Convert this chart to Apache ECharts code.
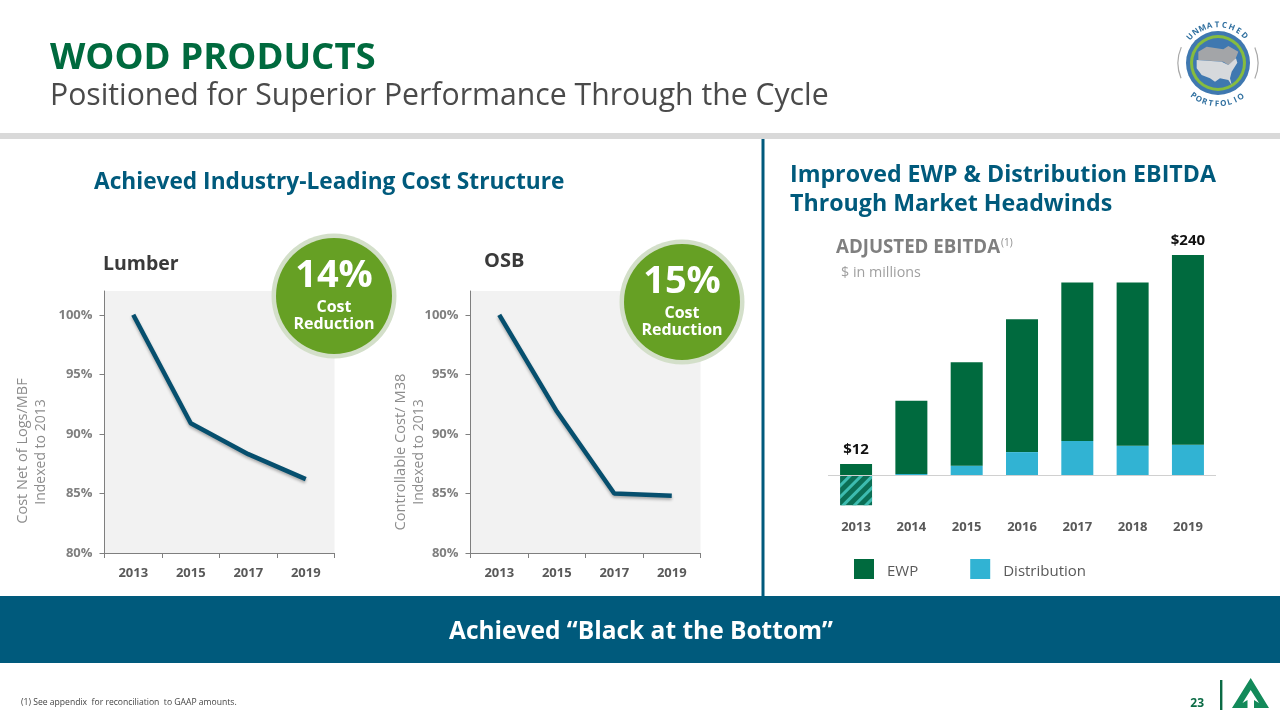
<!DOCTYPE html>
<html lang="en">
<head>
    <meta charset="UTF-8">
    <title>Wood Products</title>
    <script src="https://cdn.jsdelivr.net/npm/echarts@6/dist/echarts.min.js"></script>
    <style>
        html, body { margin: 0; padding: 0; background: #fff; }
        #chart { width: 1280px; height: 720px; }
    </style>
</head>
<body>
    <div id="chart"></div>
    <script>
        // chart data
        var lineYears = ['2013', '2015', '2017', '2019'];
        var lumberCost = [100, 90.9, 88.3, 86.2];
        var osbCost = [100, 91.9, 85, 84.8];
        var percentTicks = [80, 85, 90, 95, 100];

        var barYears = ['2013', '2014', '2015', '2016', '2017', '2018', '2019'];
        var ewp = [12, 80, 113, 145, 173, 178, 207];
        var distribution = [-33, 1, 10, 25, 37, 32, 33];
        var barLabels = ['$12', '', '', '', '', '', '$240'];

        var FONT = '"Open Sans", sans-serif';
        var GREEN = '#006a3e';
        var BLUE = '#005a7c';
        var SKY = '#31b3d3';

        var chart = echarts.init(document.getElementById('chart'));

        // text helper for the slide furniture
        function txt(x, y, text, size, weight, fill, align, rotation) {
            return {
                type: 'text', x: x, y: rotation ? y : y + size * 0.055 + 1.5, rotation: rotation || 0, z: 110,
                style: {
                    x: 0, y: 0, text: text, fill: fill,
                    font: weight + ' ' + size + 'px ' + FONT,
                    align: align || 'left', verticalAlign: 'middle'
                }
            };
        }

        function rect(x, y, w, h, fill) {
            return { type: 'rect', z: 100, shape: { x: x, y: y, width: w, height: h }, style: { fill: fill } };
        }

        function circle(cx, cy, r, fill, z) {
            return { type: 'circle', z: z || 100, shape: { cx: cx, cy: cy, r: r }, style: { fill: fill } };
        }

        function poly(points, fill, z) {
            return { type: 'polygon', z: z || 100, shape: { points: points }, style: { fill: fill } };
        }

        function badge(cx, cy, pct) {
            return [
                circle(cx, cy, 62.5, '#d3dfc9', 100),
                circle(cx, cy, 58, '#66a024', 101),
                txt(cx, cy - 23, pct, 38, 'bold', '#fff', 'center'),
                txt(cx, cy + 9.5, 'Cost', 16, 'bold', '#fff', 'center'),
                txt(cx, cy + 26.5, 'Reduction', 16, 'bold', '#fff', 'center')
            ];
        }

        // logo letters set along a circle
        function arcWord(word, cx, cy, r, from, to, bottom) {
            var out = [];
            for (var i = 0; i < word.length; i++) {
                var a = (from + (to - from) * i / (word.length - 1)) * Math.PI / 180;
                var t = bottom ? Math.PI - a : a;
                out.push({
                    type: 'text', z: 110,
                    x: cx + r * Math.sin(t), y: cy - r * Math.cos(t),
                    rotation: bottom ? a : -a,
                    style: {
                        x: 0, y: 0, text: word[i], fill: '#2f6f9f',
                        font: 'bold 8px ' + FONT, align: 'center', verticalAlign: 'middle'
                    }
                });
            }
            return out;
        }

        function logoPts(list) {
            return list.map(function (p) { return [1160 + p[0] / 3, 10 + p[1] / 3]; });
        }

        var logo = [
            { type: 'arc', z: 100, shape: { cx: 1218, cy: 63, r: 40, startAngle: 2.75, endAngle: 3.55 },
              style: { stroke: '#a8a8a8', lineWidth: 1.2, fill: null } },
            { type: 'arc', z: 100, shape: { cx: 1218, cy: 63, r: 40, startAngle: -0.4, endAngle: 0.4 },
              style: { stroke: '#a8a8a8', lineWidth: 1.2, fill: null } },
            circle(1218, 63, 32, '#3f78b0', 100),
            circle(1218, 63, 28, '#86bc3f', 101),
            circle(1218, 63, 25, '#3f78b0', 102),
            poly(logoPts([[115, 125], [140, 110], [190, 118], [205, 108], [235, 125], [225, 150], [205, 165], [190, 155], [115, 150]]), '#a3a5a8', 103),
            poly(logoPts([[110, 150], [185, 155], [205, 165], [228, 145], [232, 158], [215, 185], [210, 205], [215, 225], [205, 210], [180, 205], [165, 215], [150, 205], [125, 195], [110, 175]]), '#d6d9dc', 104)
        ].concat(arcWord('UNMATCHED', 1218, 63, 38, -47, 44, false), arcWord('PORTFOLIO', 1218, 63, 41, -37, 34, true));

        var slide = [
            // header
            txt(50, 55.5, 'WOOD PRODUCTS', 36.6, 'bold', GREEN),
            txt(50, 93, 'Positioned for Superior Performance Through the Cycle', 30.2, 'normal', '#4a4a4a'),
            rect(0, 133, 1280, 6, '#d9d9d9'),
            rect(761.5, 139, 3, 457, BLUE),
            // left panel
            txt(94, 180, 'Achieved Industry-Leading Cost Structure', 22.7, 'bold', BLUE),
            txt(103, 262, 'Lumber', 19.5, 'bold', '#3a3a3a'),
            txt(484, 259, 'OSB', 20, 'bold', '#3a3a3a'),
            txt(23, 451, 'Cost Net of Logs/MBF', 14.5, 'normal', '#8c8c8c', 'center', Math.PI / 2),
            txt(41, 452, 'Indexed to 2013', 14, 'normal', '#8c8c8c', 'center', Math.PI / 2),
            txt(401, 452, 'Controllable Cost/ M38', 14.7, 'normal', '#8c8c8c', 'center', Math.PI / 2),
            txt(419, 452, 'Indexed to 2013', 14, 'normal', '#8c8c8c', 'center', Math.PI / 2),
            // right panel
            txt(790, 173, 'Improved EWP & Distribution EBITDA', 23.2, 'bold', BLUE),
            txt(790, 202, 'Through Market Headwinds', 23.2, 'bold', BLUE),
            txt(836, 245.5, 'ADJUSTED EBITDA', 18.7, 'bold', '#7f7f7f'),
            txt(1001, 241, '(1)', 10, 'normal', '#8c8c8c'),
            txt(841, 271, '$ in millions', 14.3, 'normal', '#a0a0a0'),
            // bottom band
            rect(0, 596, 1280, 67, BLUE),
            txt(641, 629, 'Achieved \u201cBlack at the Bottom\u201d', 24.5, 'bold', '#fff', 'center'),
            txt(21, 701, '(1) See appendix  for reconciliation  to GAAP amounts.', 8.6, 'normal', '#444'),
            txt(1204, 701.5, '23', 12, 'bold', '#0b6b45', 'right'),
            // corner mark
            rect(1220, 680, 2.4, 30, '#0b6b45'),
            poly([[1250.7, 678], [1269, 708], [1254, 708], [1254, 700], [1259, 703], [1250.7, 690], [1242.5, 703], [1247.5, 700], [1247.5, 708], [1232, 708]], '#138a5a')
        ].concat(badge(334, 296, '14%'), badge(682, 302, '15%'), logo);

        function costAxis(gridIndex) {
            return {
                type: 'value', gridIndex: gridIndex, min: 80, max: 102,
                splitLine: { show: false },
                axisLine: { show: true, lineStyle: { color: '#7f7f7f' } },
                axisTick: { show: true, length: 5, customValues: percentTicks, lineStyle: { color: '#7f7f7f' } },
                axisLabel: {
                    customValues: percentTicks, formatter: '{value}%', margin: 12,
                    color: '#7f7f7f', fontFamily: FONT, fontWeight: 'bold', fontSize: 13
                }
            };
        }

        function yearAxis(gridIndex) {
            return {
                type: 'category', gridIndex: gridIndex, data: lineYears,
                axisLine: { lineStyle: { color: '#7f7f7f' } },
                axisTick: { show: true, length: 5, lineStyle: { color: '#7f7f7f' } },
                axisLabel: { margin: 14, color: '#595959', fontFamily: FONT, fontWeight: 'bold', fontSize: 13 }
            };
        }

        function costLine(index, values) {
            return {
                type: 'line', xAxisIndex: index, yAxisIndex: index, data: values,
                symbol: 'none', silent: true,
                lineStyle: {
                    color: '#064f6e', width: 4.5,
                    shadowColor: 'rgba(0,0,0,0.3)', shadowBlur: 3, shadowOffsetY: 2
                }
            };
        }

        var option = {
            animation: false,
            graphic: { elements: slide },
            legend: {
                data: ['EWP', 'Distribution'], selectedMode: false, padding: 0, icon: 'rect',
                left: 854, top: 559, itemWidth: 20, itemHeight: 20, itemGap: 52,
                formatter: '{t|{name}}',
                textStyle: {
                    color: '#595959', fontFamily: FONT, fontSize: 15, padding: [0, 0, 0, 8],
                    rich: { t: { color: '#595959', fontFamily: FONT, fontSize: 15, padding: [5, 0, 0, 0] } }
                }
            },
            grid: [
                { left: 104.5, top: 291, width: 230, height: 262, show: true, backgroundColor: '#f2f2f2', borderWidth: 0 },
                { left: 470.5, top: 291, width: 230, height: 262, show: true, backgroundColor: '#f2f2f2', borderWidth: 0 },
                { left: 828.4, top: 255, width: 387.2, height: 251.2 }
            ],
            xAxis: [
                yearAxis(0),
                yearAxis(1),
                {
                    type: 'category', gridIndex: 2, data: barYears, position: 'bottom',
                    axisLine: { show: false, onZero: false },
                    axisTick: { show: false },
                    axisLabel: { margin: 15, color: '#595959', fontFamily: FONT, fontWeight: 'bold', fontSize: 13 }
                },
                {
                    type: 'category', gridIndex: 2, data: barYears, position: 'bottom', z: 5,
                    axisLine: { onZero: true, lineStyle: { color: '#d0d0d0', width: 1 } },
                    axisTick: { show: false },
                    axisLabel: { show: false }
                }
            ],
            yAxis: [
                costAxis(0),
                costAxis(1),
                { type: 'value', gridIndex: 2, min: -34, max: 240, show: false, splitLine: { show: false } }
            ],
            series: [
                costLine(0, lumberCost),
                costLine(1, osbCost),
                {
                    name: 'Distribution', type: 'bar', stack: 'ebitda', xAxisIndex: 2, yAxisIndex: 2,
                    barWidth: 32, silent: true,
                    itemStyle: { color: SKY },
                    // the negative 2013 amount is the hatched block
                    data: distribution.map(function (v) {
                        if (v >= 0) return v;
                        return {
                            value: v,
                            itemStyle: {
                                color: '#0b6f55',
                                decal: {
                                    symbol: 'rect', color: '#3dbcb0', symbolSize: 1,
                                    dashArrayX: [1, 0], dashArrayY: [3, 5], rotation: -Math.PI / 4
                                }
                            }
                        };
                    })
                },
                {
                    name: 'EWP', type: 'bar', stack: 'ebitda', xAxisIndex: 2, yAxisIndex: 2,
                    barWidth: 32, silent: true,
                    itemStyle: { color: GREEN },
                    data: ewp.map(function (v, i) {
                        return {
                            value: v,
                            label: {
                                show: barLabels[i] !== '', position: 'top', distance: 7, formatter: barLabels[i],
                                color: '#111', fontFamily: FONT, fontWeight: 'bold', fontSize: 15
                            }
                        };
                    })
                }
            ]
        };

        chart.setOption(option);
    </script>
</body>
</html>
